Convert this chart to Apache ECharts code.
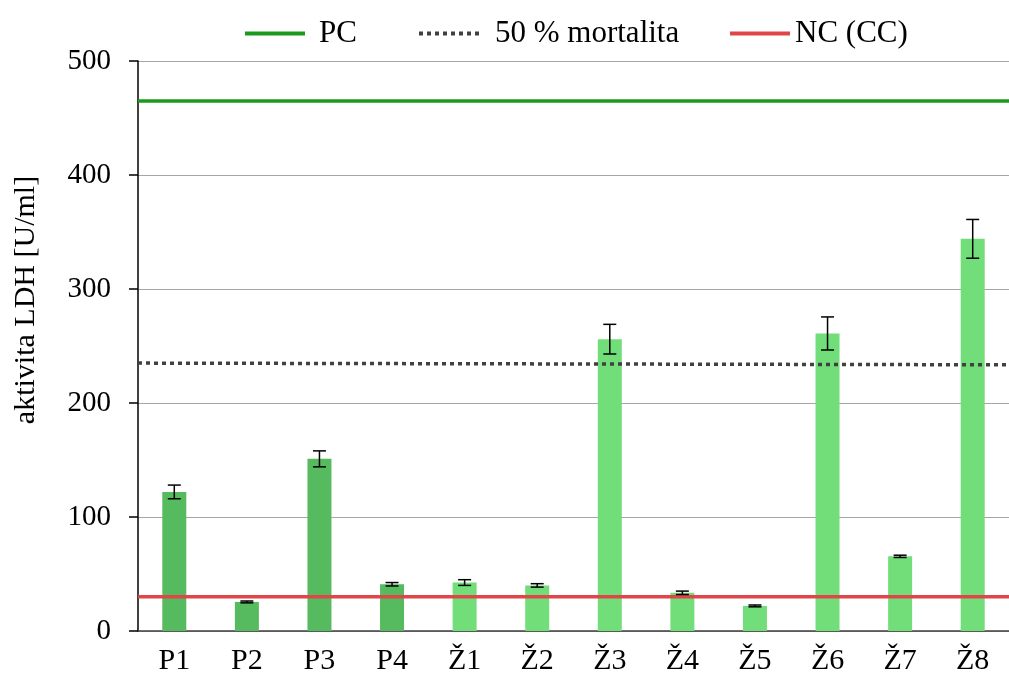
<!DOCTYPE html>
<html><head><meta charset="utf-8">
<script src="https://cdn.jsdelivr.net/npm/echarts@6/dist/echarts.min.js"></script>
<style>html,body{margin:0;padding:0;background:#fff}#c{width:1009px;height:682px}</style>
</head><body><div id="c"></div>
<script>
const categories = ['P1','P2','P3','P4','Ž1','Ž2','Ž3','Ž4','Ž5','Ž6','Ž7','Ž8'];
const values = [122, 25.5, 151, 41, 42.5, 40, 256, 33.5, 22, 261, 65.5, 344];
const errors = [6, 0.8, 7, 1.5, 2.5, 1.5, 13, 1.5, 0.8, 14.5, 1, 17];
const groupP = [true, true, true, true, false, false, false, false, false, false, false, false];
const pcLine = [465, 465];
const mortalityLine = [235, 233.5];
const ncLine = [30, 30];
const yTicks = [0, 100, 200, 300, 400, 500];
const yTitle = 'aktivita LDH [U/ml]';

const FONT = 'Liberation Serif';
const chart = echarts.init(document.getElementById('c'));
const refX = [0, 1];
function legendAt(name, left, gap) {
  return {data: [name], left: left, top: 13, itemWidth: 60, itemHeight: 14, itemGap: 0,
    itemStyle: {opacity: 0}, lineStyle: {width: 4},
    textStyle: {fontFamily: FONT, fontSize: 31, color: '#000', padding: [0, 0, 0, gap]}};
}
chart.setOption({
  animation: false,
  legend: [legendAt('PC', 238, 9), legendAt('50 % mortalita', 412, 11), legendAt('NC (CC)', 723, 0)],
  graphic: [{type: 'text', x: 26, y: 300, rotation: Math.PI / 2,
    style: {text: yTitle, font: '30px "Liberation Serif"', fill: '#000', align: 'center', verticalAlign: 'middle'}}],
  grid: {left: 138, right: 0, top: 61, bottom: 51, containLabel: false},
  xAxis: [
    {type: 'category', data: categories,
     axisLine: {lineStyle: {color: '#404040', width: 1.5}},
     axisTick: {show: false},
     axisLabel: {fontFamily: FONT, fontSize: 30, color: '#000', margin: 15}},
    {type: 'value', min: 0, max: 1, show: false}
  ],
  yAxis: {type: 'value', min: yTicks[0], max: yTicks[yTicks.length - 1], interval: 100,
    axisLine: {show: true, lineStyle: {color: '#000', width: 1.5}},
    axisTick: {show: true, length: 9, lineStyle: {color: '#000', width: 1.5}},
    axisLabel: {fontFamily: FONT, fontSize: 29, color: '#000', margin: 27},
    splitLine: {lineStyle: {color: '#a6a6a6', width: 1.2}}},
  series: [
    {type: 'bar', name: 'bars', barWidth: 24, z: 2,
     data: values.map((v, i) => ({value: v, itemStyle: {color: groupP[i] ? '#56bb5f' : '#72de79'}}))},
    {type: 'custom', name: 'err', z: 5,
     data: values.map((v, i) => [i, v - errors[i], v + errors[i]]),
     renderItem: function (params, api) {
       const lo = api.coord([api.value(0), api.value(1)]);
       const hi = api.coord([api.value(0), api.value(2)]);
       const w = 6.5;
       const st = {stroke: '#000', lineWidth: 1.5};
       return {type: 'group', children: [
         {type: 'line', shape: {x1: lo[0], y1: lo[1], x2: hi[0], y2: hi[1]}, style: st},
         {type: 'line', shape: {x1: lo[0] - w, y1: lo[1], x2: lo[0] + w, y2: lo[1]}, style: st},
         {type: 'line', shape: {x1: hi[0] - w, y1: hi[1], x2: hi[0] + w, y2: hi[1]}, style: st}
       ]};
     }},
    {type: 'line', name: 'PC', xAxisIndex: 1, symbol: 'none', z: 4,
     data: refX.map((x, i) => [x, pcLine[i]]),
     lineStyle: {color: '#1c9a1c', width: 3.5}, itemStyle: {color: '#1c9a1c'}},
    {type: 'line', name: '50 % mortalita', xAxisIndex: 1, symbol: 'none', z: 4,
     data: refX.map((x, i) => [x, mortalityLine[i]]),
     lineStyle: {color: '#404040', width: 3.5, type: [4, 4]}, itemStyle: {color: '#404040'}},
    {type: 'line', name: 'NC (CC)', xAxisIndex: 1, symbol: 'none', z: 4,
     data: refX.map((x, i) => [x, ncLine[i]]),
     lineStyle: {color: '#e0454a', width: 3.5}, itemStyle: {color: '#e0454a'}}
  ]
});
</script></body></html>
